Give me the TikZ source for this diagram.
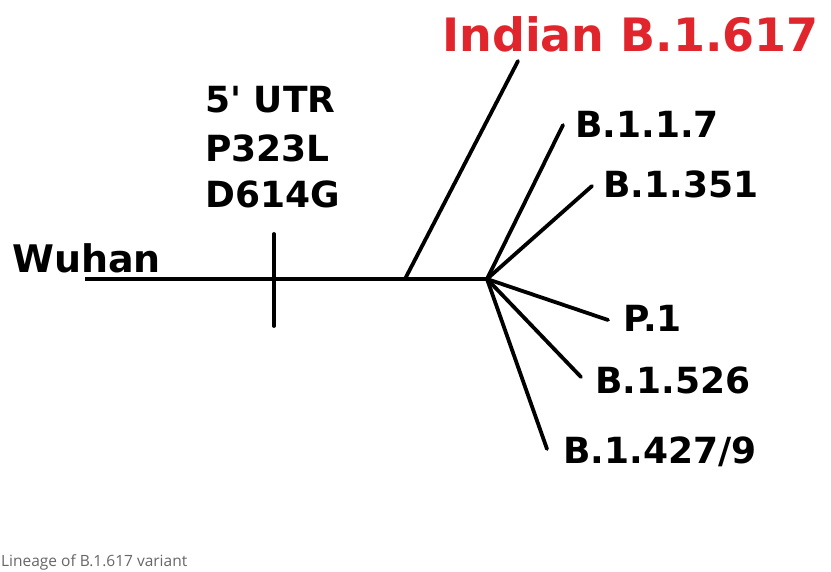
\documentclass[tikz,border=0pt]{standalone}
\usepackage{fontspec}
\setmainfont{DejaVu Sans}
\newfontfamily\capfont{Open Sans}
\definecolor{indred}{HTML}{E0262C}
\begin{document}
\begin{tikzpicture}[x=1pt,y=-1pt,
  branch/.style={line width=3.8pt,line cap=round},
  lbl/.style={anchor=base west,inner sep=0pt,font=\bfseries\fontsize{36}{40}\selectfont},
  redlbl/.style={anchor=base west,inner sep=0pt,text=indred,font=\bfseries\fontsize{46}{50}\selectfont}]
\useasboundingbox (0,0) rectangle (831,572);
% labels
\node[redlbl] (ind) at (442,52) {Indian B.1.617};
\node[lbl] (m1) at (205,113) {5\textquotesingle{} UTR};
\node[lbl] (m2) at (205,162) {P323L};
\node[lbl] (m3) at (205,208) {D614G};
\node[lbl,font=\bfseries\fontsize{38}{42}\selectfont] (wu) at (12,273) {Wuhan};
\node[lbl] (b117) at (575,138) {B.1.1.7};
\node[lbl] (b351) at (603,198) {B.1.351};
\node[lbl] (p1) at (623,332) {P.1};
\node[lbl] (b526) at (595,393) {B.1.526};
\node[lbl] (b427) at (563,463) {B.1.427/9};
\node[anchor=base west,inner sep=0pt,text=black!60,font=\capfont\fontsize{15.5}{18}\selectfont] (cap) at (1,566) {Lineage of B.1.617 variant};
% coordinates
\coordinate (root) at (85,279);
\coordinate (hub) at (487,279);
\coordinate (fork) at (405,279);
\coordinate (tickT) at (274,234);
\coordinate (tickB) at (274,326);
\coordinate (eind) at (518,61);
\coordinate (e117) at (563,125);
\coordinate (e351) at (592,186);
\coordinate (ep1) at (608,320);
\coordinate (e526) at (581,377);
\coordinate (e427) at (547,449);
% lines
\draw[branch,line cap=butt] (root) -- (hub);
\draw[branch] (tickT) -- (tickB);
\draw[branch] (fork) -- (eind);
\draw[branch] (hub) -- (e117);
\draw[branch] (hub) -- (e351);
\draw[branch] (hub) -- (ep1);
\draw[branch] (hub) -- (e526);
\draw[branch] (hub) -- (e427);
\end{tikzpicture}
\end{document}
